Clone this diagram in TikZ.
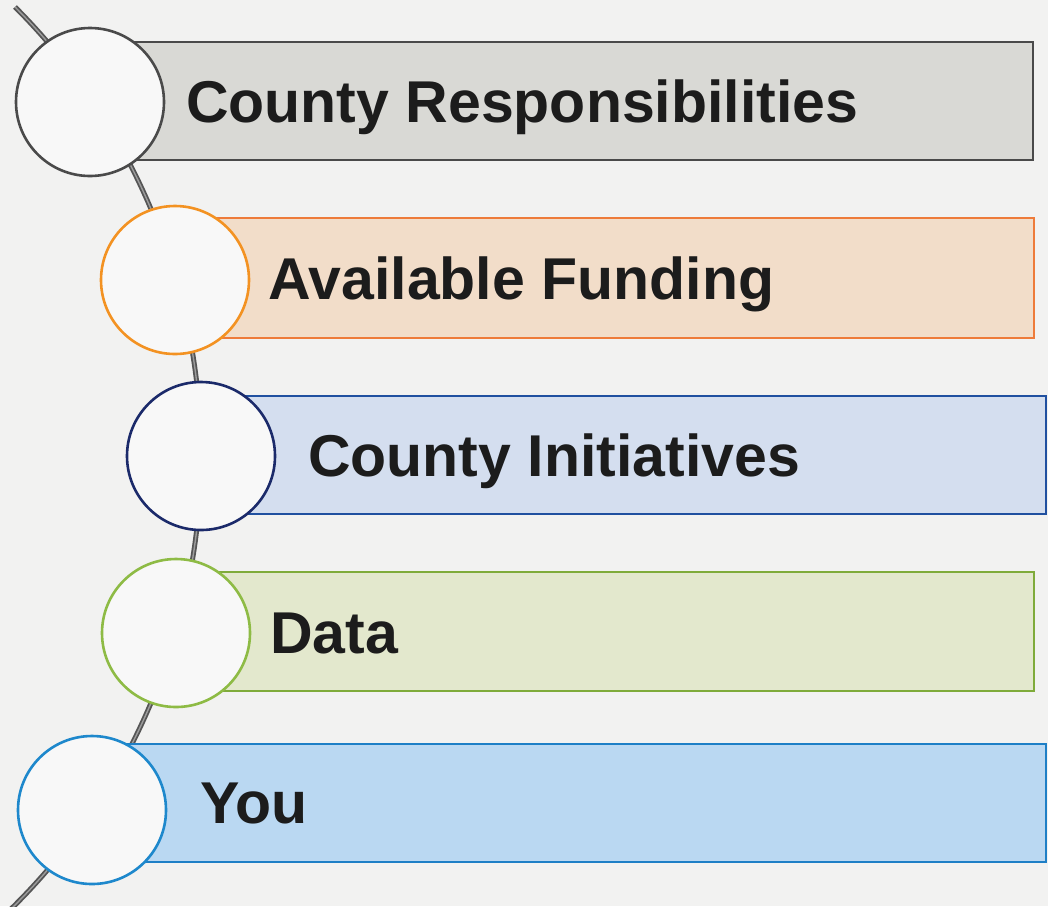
\documentclass[tikz,border=0pt]{standalone}
\usepackage{fontspec}
\setmainfont{Liberation Sans}
\usetikzlibrary{positioning}

\definecolor{paper}{HTML}{F2F2F1}
\definecolor{disc}{HTML}{F8F8F8}
\definecolor{inkdark}{HTML}{1C1C1C}
\definecolor{spinegray}{HTML}{555555}
\definecolor{spinelight}{HTML}{9C9C9C}
\definecolor{grayline}{HTML}{4A4A4A}
\definecolor{grayfill}{HTML}{D9D9D5}
\definecolor{orangeline}{HTML}{EE7B3A}
\definecolor{orangering}{HTML}{F39222}
\definecolor{orangefill}{HTML}{F2DDC9}
\definecolor{navyline}{HTML}{2050A0}
\definecolor{navyring}{HTML}{1B2A6A}
\definecolor{navyfill}{HTML}{D4DEEF}
\definecolor{greenline}{HTML}{7FAB3A}
\definecolor{greenring}{HTML}{8EBB45}
\definecolor{greenfill}{HTML}{E3E8CD}
\definecolor{blueline}{HTML}{1E7FC6}
\definecolor{bluering}{HTML}{1E88CC}
\definecolor{bluefill}{HTML}{BAD8F2}

\tikzstyle{stage} = [circle, minimum size=148pt, inner sep=0pt, line width=2.6pt, fill=disc]
\tikzstyle{band} = [line width=2.6pt]
\tikzstyle{bartext} = [anchor=base west, inner sep=0pt, text=inkdark, font=\bfseries\fontsize{59}{61}\selectfont]
\tikzstyle{spine} = [line width=1.8pt, draw=spinegray, double=spinelight, double distance=1.4pt]

\begin{document}
\begin{tikzpicture}[x=1pt, y=-1pt]
    \useasboundingbox (0,0) rectangle (1048,906);
    \fill[paper] (0,0) rectangle (1048,906);

    % curved line behind the circles
    \coordinate (hub) at (-434,456);
    \draw [spine] (hub) ++(-45:635) arc (-45:46:635);

    % coloured bands
    \draw [band, draw=grayline, fill=grayfill] (90,42) rectangle (1033,160);
    \draw [band, draw=orangeline, fill=orangefill] (175,218) rectangle (1034,338);
    \draw [band, draw=navyline, fill=navyfill] (201,396) rectangle (1046,514);
    \draw [band, draw=greenline, fill=greenfill] (176,572) rectangle (1034,691);
    \draw [band, draw=blueline, fill=bluefill] (92,744) rectangle (1046,862);

    % circles
    \node (ring1) [stage, draw=grayline] at (90,102) {};
    \node (ring2) [stage, draw=orangering] at (175,280) {};
    \node (ring3) [stage, draw=navyring] at (201,456) {};
    \node (ring4) [stage, draw=greenring] at (176,633) {};
    \node (ring5) [stage, draw=bluering] at (92,810) {};

    % texts
    \node (resp) [bartext] at (186,122) {County Responsibilities};
    \node (fund) [bartext] at (268,299) {Available Funding};
    \node (init) [bartext] at (308,476) {County Initiatives};
    \node (data) [bartext] at (270,653) {Data};
    \node (you) [bartext] at (200,823) {You};
\end{tikzpicture}
\end{document}
